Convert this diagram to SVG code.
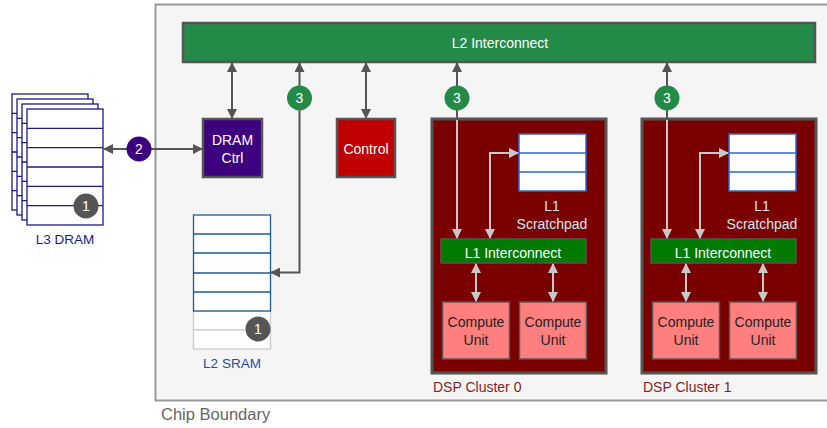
<svg xmlns="http://www.w3.org/2000/svg" width="827" height="428" viewBox="0 0 827 428">
<defs>
<style>
text{font-family:"Liberation Sans",Arial,sans-serif;font-size:14px;text-anchor:middle}
.blk{stroke:#555;stroke-width:2.5}
.dk{stroke:#555;stroke-width:2;fill:none}
.lt{stroke:#c8c8c8;stroke-width:2;fill:none}
.pg{fill:#fff;stroke:#1a1a8c;stroke-width:1.3}
.sr{fill:#fff;stroke:#1f5a9a;stroke-width:1.3}
.sg{fill:#fff;stroke:#cccccc;stroke-width:1.3}
.sp{fill:#fff;stroke:#2a6ad0;stroke-width:1.5}
.cu{fill:#ff7f7f;stroke:#555;stroke-width:1.5}
.bt{fill:#fff}
.ct{fill:#222}
.sc{fill:#d2e6ee}
.dl{text-anchor:start;fill:#8b1c1c}
</style>
<marker id="ad" viewBox="0 0 10 10" refX="9" refY="5" markerWidth="10" markerHeight="10" markerUnits="userSpaceOnUse" orient="auto-start-reverse"><path d="M0,0 L10,5 L0,10 z" fill="#555"/></marker>
<marker id="al" viewBox="0 0 10 10" refX="9" refY="5" markerWidth="10" markerHeight="10" markerUnits="userSpaceOnUse" orient="auto-start-reverse"><path d="M0,0 L10,5 L0,10 z" fill="#c8c8c8"/></marker>
</defs>
<rect width="827" height="428" fill="#fff"/>
<g id="chip">
<rect x="155.5" y="4.5" width="680" height="396" fill="#f5f5f5" stroke="#999" stroke-width="2"/>
<text x="161" y="420" style="text-anchor:start;font-size:16.5px;fill:#666">Chip Boundary</text>
</g>
<g id="l3dram">
<g>
<rect class="pg" x="12" y="94" width="76" height="116"/>
<path class="pg" d="M12,113.3h76M12,132.6h76M12,152h76M12,171.3h76M12,190.6h76"/>
</g>
<g>
<rect class="pg" x="17" y="99" width="76" height="116"/>
<path class="pg" d="M17,118.3h76M17,137.6h76M17,157h76M17,176.3h76M17,195.6h76"/>
</g>
<g>
<rect class="pg" x="22" y="104" width="76" height="116"/>
<path class="pg" d="M22,123.3h76M22,142.6h76M22,162h76M22,181.3h76M22,200.6h76"/>
</g>
<g>
<rect class="pg" x="27" y="109" width="76" height="116"/>
<path class="pg" d="M27,128.3h76M27,147.6h76M27,167h76M27,186.3h76M27,205.6h76"/>
</g>
<circle cx="86" cy="206" r="12.5" fill="#555"/>
<text x="86" y="211" class="bt">1</text>
<text x="65" y="244" style="fill:#1a1a8c;font-size:13.5px">L3 DRAM</text>
</g>
<g id="l2interconnect">
<rect class="blk" x="183" y="23" width="632" height="39" fill="#238a47"/>
<text x="500" y="48" class="bt">L2 Interconnect</text>
</g>
<g id="dramctrl">
<rect class="blk" x="203" y="119" width="59" height="58" fill="#3d007f"/>
<text x="232.5" y="145" class="bt">DRAM</text>
<text x="232.5" y="163" class="bt">Ctrl</text>
</g>
<g id="control">
<rect class="blk" x="337" y="119" width="58" height="58" fill="#c00000"/>
<text x="366" y="154" class="bt">Control</text>
</g>
<g id="l2sram">
<rect class="sg" x="193.5" y="311" width="77" height="19"/>
<rect class="sg" x="193.5" y="330" width="77" height="19"/>
<rect class="sr" x="193.5" y="215" width="77" height="96"/>
<path class="sr" d="M193.5,234h77M193.5,253h77M193.5,273h77M193.5,292h77"/>
<circle cx="258" cy="329" r="12.5" fill="#555"/>
<text x="258" y="334" class="bt">1</text>
<text x="232" y="368" style="fill:#1f4e9a;font-size:13.5px">L2 SRAM</text>
</g>
<g id="cluster0">
<rect x="432" y="119" width="174" height="254" fill="#7a0000" stroke="#555" stroke-width="3"/>
<rect class="sp" x="519" y="134" width="67" height="57"/>
<path class="sp" d="M519,153h67M519,172h67"/>
<text x="552" y="211" class="sc">L1</text>
<text x="552" y="229" class="sc">Scratchpad</text>
<rect x="441" y="239" width="145" height="24" fill="#007a00" stroke="#555" stroke-width="1.5"/>
<text x="513" y="258" class="bt">L1 Interconnect</text>
<rect class="cu" x="442.5" y="302" width="67" height="57"/>
<text x="476" y="327" class="ct">Compute</text>
<text x="476" y="345" class="ct">Unit</text>
<rect class="cu" x="519.5" y="302" width="67" height="57"/>
<text x="553" y="327" class="ct">Compute</text>
<text x="553" y="345" class="ct">Unit</text>
<text x="433" y="392" class="dl">DSP Cluster 0</text>
</g>
<g id="cluster1">
<rect x="642" y="119" width="174" height="254" fill="#7a0000" stroke="#555" stroke-width="3"/>
<rect class="sp" x="729" y="134" width="67" height="57"/>
<path class="sp" d="M729,153h67M729,172h67"/>
<text x="762" y="211" class="sc">L1</text>
<text x="762" y="229" class="sc">Scratchpad</text>
<rect x="651" y="239" width="145" height="24" fill="#007a00" stroke="#555" stroke-width="1.5"/>
<text x="723" y="258" class="bt">L1 Interconnect</text>
<rect class="cu" x="652.5" y="302" width="67" height="57"/>
<text x="686" y="327" class="ct">Compute</text>
<text x="686" y="345" class="ct">Unit</text>
<rect class="cu" x="729.5" y="302" width="67" height="57"/>
<text x="763" y="327" class="ct">Compute</text>
<text x="763" y="345" class="ct">Unit</text>
<text x="643" y="392" class="dl">DSP Cluster 1</text>
</g>
<g id="connectors">
<path class="dk" d="M104,149H202" marker-start="url(#ad)" marker-end="url(#ad)"/>
<path class="dk" d="M232,63V118" marker-start="url(#ad)" marker-end="url(#ad)"/>
<path class="dk" d="M366,63V118" marker-start="url(#ad)" marker-end="url(#ad)"/>
<path class="dk" d="M299.5,63V272.5H271" marker-start="url(#ad)" marker-end="url(#ad)"/>
<path class="dk" d="M457,63V120" marker-start="url(#ad)"/>
<path class="lt" d="M457,120V238" marker-end="url(#al)"/>
<path class="lt" d="M490,238V153H518" marker-start="url(#al)" marker-end="url(#al)"/>
<path class="lt" d="M476,264V301" marker-start="url(#al)" marker-end="url(#al)"/>
<path class="lt" d="M553,264V301" marker-start="url(#al)" marker-end="url(#al)"/>
<path class="dk" d="M667,63V120" marker-start="url(#ad)"/>
<path class="lt" d="M667,120V238" marker-end="url(#al)"/>
<path class="lt" d="M700,238V153H728" marker-start="url(#al)" marker-end="url(#al)"/>
<path class="lt" d="M686,264V301" marker-start="url(#al)" marker-end="url(#al)"/>
<path class="lt" d="M763,264V301" marker-start="url(#al)" marker-end="url(#al)"/>
<g id="badge2"><circle cx="139" cy="149" r="12.5" fill="#3d007f"/><text x="139" y="154" class="bt">2</text></g>
<g id="badge3a"><circle cx="299.5" cy="98" r="12.5" fill="#238a47"/><text x="299.5" y="103" class="bt">3</text></g>
<g id="badge3b"><circle cx="457" cy="98" r="12.5" fill="#238a47"/><text x="457" y="103" class="bt">3</text></g>
<g id="badge3c"><circle cx="667" cy="98" r="12.5" fill="#238a47"/><text x="667" y="103" class="bt">3</text></g>
</g>
</svg>
